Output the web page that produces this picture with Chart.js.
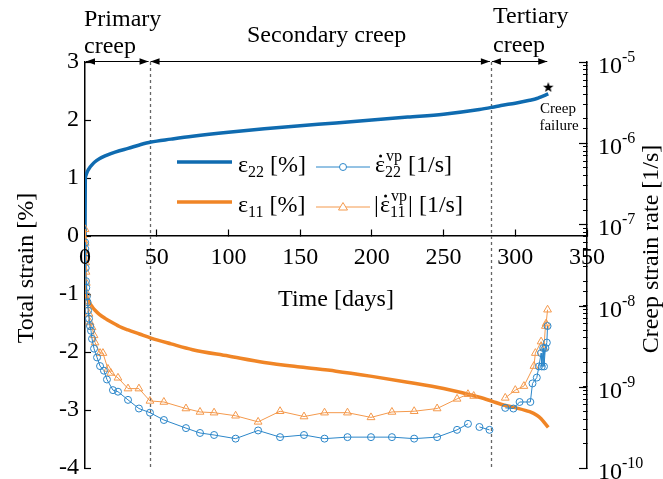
<!DOCTYPE html>
<html>
<head>
<meta charset="utf-8">
<script src="https://cdn.jsdelivr.net/npm/chart.js@4/dist/chart.umd.min.js"></script>
<style>
  html, body { margin: 0; padding: 0; background: #fff; }
</style>
</head>
<body>
<canvas id="creepChart" width="663" height="479"></canvas>
<script>
// total strain curves [%]
const strainDays = [0, 0.2, 0.5, 1, 2, 3, 5, 7, 10, 14, 18, 24, 30, 38, 46, 60, 75, 100, 125, 150, 175, 200, 225, 250, 275, 284, 290, 300, 310, 315, 318, 321, 323];
const strain22 = [0, 0.98, 1.03, 1.07, 1.13, 1.17, 1.23, 1.28, 1.33, 1.38, 1.42, 1.47, 1.51, 1.57, 1.62, 1.67, 1.72, 1.79, 1.85, 1.9, 1.95, 2.0, 2.05, 2.1, 2.18, 2.22, 2.25, 2.29, 2.34, 2.37, 2.4, 2.43, 2.45];
const strain11 = [0, -0.92, -0.98, -1.03, -1.1, -1.15, -1.22, -1.28, -1.35, -1.42, -1.48, -1.56, -1.62, -1.69, -1.76, -1.86, -1.96, -2.07, -2.18, -2.26, -2.33, -2.42, -2.52, -2.63, -2.78, -2.85, -2.9, -2.96, -3.03, -3.09, -3.15, -3.24, -3.3];

// viscoplastic creep strain rates [1/s]
const rate22Days = [0.1, 0.2, 0.3, 0.5, 0.7, 0.9, 1.3, 1.8, 2.2, 2.8, 3.5, 4.2, 4.9, 6.3, 8.4, 10.5, 13.2, 15.3, 19.5, 23, 30, 37.6, 45.3, 55, 70.4, 80.2, 90, 105, 120.7, 136, 152.7, 167, 183, 199.4, 214, 229.5, 245.5, 259.4, 267, 271, 275, 282, 288, 293, 298.7, 303, 310.5, 312, 315, 316.5, 318, 318.5, 319.5, 320, 321, 322, 322.5];
const rate22 = [6.0e-8, 5.0e-8, 3.8e-8, 2.9e-8, 2.0e-8, 1.66e-8, 1.3e-8, 1.1e-8, 8.7e-9, 6.9e-9, 5.6e-9, 4.9e-9, 3.9e-9, 2.95e-9, 2.3e-9, 1.8e-9, 1.58e-9, 1.23e-9, 9.1e-10, 8.7e-10, 6.9e-10, 5.4e-10, 4.8e-10, 3.9e-10, 3.1e-10, 2.7e-10, 2.55e-10, 2.3e-10, 2.9e-10, 2.4e-10, 2.55e-10, 2.3e-10, 2.4e-10, 2.4e-10, 2.4e-10, 2.3e-10, 2.4e-10, 2.95e-10, 3.5e-10, null, 3.2e-10, 2.95e-10, null, 5.5e-10, 5.4e-10, 6.5e-10, 6.5e-10, 1.1e-9, 1.3e-9, 1.78e-9, 2.6e-9, 1.78e-9, 3.0e-9, 1.78e-9, 3.0e-9, 3.5e-9, 5.6e-9];
const rate11Days = [0.05, 0.15, 0.3, 0.5, 0.7, 0.9, 1.4, 2.1, 2.8, 3.5, 4.9, 6.3, 7, 10.5, 12.5, 16, 18, 23, 30, 37.6, 45.3, 55, 70.4, 80.2, 90, 105, 120.7, 136, 152.7, 167, 183, 199.4, 214, 229.5, 245.5, 259.4, 267, 271, 282, 293, 300, 306, 313, 314, 318, 320, 321, 321.5, 322.5];
const rate11 = [8.7e-8, 5.9e-8, 4.4e-8, 3.4e-8, 2.6e-8, 1.9e-8, 1.4e-8, 1.0e-8, 7.9e-9, 6.2e-9, 5.4e-9, 4.3e-9, 3.5e-9, 2.6e-9, 2.6e-9, 1.66e-9, 1.48e-9, 1.29e-9, 9.5e-10, 9.5e-10, 6.7e-10, 6.5e-10, 5.4e-10, 4.9e-10, 4.8e-10, 4.4e-10, 3.7e-10, 5.0e-10, 4.3e-10, 4.8e-10, 4.8e-10, 4.2e-10, 4.9e-10, 5.0e-10, 5.4e-10, 7.1e-10, 8.1e-10, 7.7e-10, null, 7.3e-10, 9.1e-10, 1.02e-9, 1.8e-9, 2.6e-9, 3.6e-9, 3.0e-9, 5.6e-9, 6.0e-9, 8.9e-9];

// creep failure point and phase limits [days]
const failureDay = 323;
const failureStrain = 2.57;
const phaseDays = [0, 45, 283, 323];
const phaseNames = [['Primary', 'creep'], ['Secondary creep'], ['Tertiary', 'creep']];

const xTicks = [0, 50, 100, 150, 200, 250, 300, 350];
const strainTicks = [-4, -3, -2, -1, 0, 1, 2, 3];
const rateDecades = [-10, -9, -8, -7, -6, -5];

const serif = '"Liberation Serif", "Times New Roman", serif';
const blue = '#0f6bb0';
const orange = '#f08526';
const blueThin = '#2b86c9';
const orangeThin = '#f4994c';

const toPoints = (xs, ys) => xs.map((x, i) => ({ x: x, y: ys[i] }));

// filled five point star for the failure mark
const starImg = document.createElement('canvas');
starImg.width = 12; starImg.height = 12;
(function () {
    const s = starImg.getContext('2d');
    s.beginPath();
    for (let i = 0; i < 10; i++) {
        const r = i % 2 === 0 ? 5.5 : 2.3;
        const a = -Math.PI / 2 + i * Math.PI / 5;
        s.lineTo(6 + r * Math.cos(a), 6.5 + r * Math.sin(a));
    }
    s.closePath();
    s.fillStyle = '#000';
    s.fill();
})();

function arrowHead(c, x, y, dir) {
    c.beginPath();
    c.moveTo(x, y);
    c.lineTo(x - dir * 9, y - 3.2);
    c.lineTo(x - dir * 9, y + 3.2);
    c.closePath();
    c.fill();
}

function epsText(c, x, y, sub, rate) {
    c.font = '24px ' + serif;
    c.fillText('\u03b5', x, y);
    const ew = c.measureText('\u03b5').width;
    if (rate) {
        c.beginPath();
        c.arc(x + ew * 0.55, y - 16, 1.5, 0, Math.PI * 2);
        c.fill();
    }
    c.font = '16px ' + serif;
    let w = c.measureText(sub).width;
    c.fillText(sub, x + ew, y + 5);
    if (rate) {
        c.fillText('vp', x + ew + 1, y - 11);
        w = Math.max(w, c.measureText('vp').width + 1);
    }
    return x + ew + w;
}

const creepDecor = {
    id: 'creepDecor',
    beforeDatasetsDraw(chart) {
        const c = chart.ctx;
        const xs = chart.scales.x;
        const area = chart.chartArea;
        c.save();
        c.strokeStyle = '#666';
        c.lineWidth = 1.3;
        c.setLineDash([3, 3]);
        phaseDays.slice(1, 3).forEach(d => {
            const px = Math.round(xs.getPixelForValue(d)) + 0.5;
            c.beginPath();
            c.moveTo(px, area.top);
            c.lineTo(px, area.bottom);
            c.stroke();
        });
        c.restore();
    },
    afterDraw(chart) {
        const c = chart.ctx;
        const xs = chart.scales.x;
        const ys = chart.scales.y2;
        const area = chart.chartArea;
        c.save();
        c.fillStyle = '#000';
        c.strokeStyle = '#000';

        // x tick labels just under the y = 0 axis line
        const axisY = chart.scales.y.getPixelForValue(0);
        c.font = '24px ' + serif;
        c.textAlign = 'center';
        xTicks.forEach(v => c.fillText(String(v), xs.getPixelForValue(v), axisY + 28));

        // phase arrows and names
        const ay = area.top - 0.5;
        c.lineWidth = 1;
        for (let i = 0; i < 3; i++) {
            const x1 = xs.getPixelForValue(phaseDays[i]) + 1;
            const x2 = xs.getPixelForValue(phaseDays[i + 1]) - 1;
            c.beginPath();
            c.moveTo(x1, ay);
            c.lineTo(x2, ay);
            c.stroke();
            arrowHead(c, x1, ay, -1);
            arrowHead(c, x2, ay, 1);
        }
        c.font = '24px ' + serif;
        c.textAlign = 'left';
        c.fillText(phaseNames[0][0], 84, 26);
        c.fillText(phaseNames[0][1], 84, 53);
        c.fillText(phaseNames[1][0], 247, 42);
        c.fillText(phaseNames[2][0], 493, 23);
        c.fillText(phaseNames[2][1], 493, 52);

        c.font = '15px ' + serif;
        c.textAlign = 'center';
        c.fillText('Creep', 558, 113);
        c.fillText('failure', 559, 130);

        // right axis: major ticks and 10^n labels
        c.lineWidth = 1.2;
        c.textAlign = 'left';
        rateDecades.forEach(e => {
            const py = Math.round(ys.getPixelForValue(Math.pow(10, e))) + 0.5;
            c.beginPath();
            c.moveTo(ys.left, py);
            c.lineTo(ys.left - 8, py);
            c.stroke();
            c.font = '24px ' + serif;
            c.fillText('10', 598, py + 10);
            const w = c.measureText('10').width;
            c.font = '16px ' + serif;
            c.fillText(String(e), 598 + w, py - 1);
        });

        // axis titles
        c.font = '24px ' + serif;
        c.textAlign = 'center';
        c.fillText('Time [days]', (area.left + area.right) / 2, 306);
        c.save();
        c.translate(33, 268);
        c.rotate(-Math.PI / 2);
        c.fillText('Total strain [%]', 0, 0);
        c.restore();
        c.save();
        c.translate(658, 249);
        c.rotate(-Math.PI / 2);
        c.fillText('Creep strain rate [1/s]', 0, 0);
        c.restore();

        // legend
        c.textAlign = 'left';
        c.lineCap = 'butt';
        const rows = [
            { y: 162, thick: blue, thin: blueThin, sub: '22', abs: false },
            { y: 202, thick: orange, thin: orangeThin, sub: '11', abs: true }
        ];
        rows.forEach((r, i) => {
            c.strokeStyle = r.thick;
            c.lineWidth = 3.5;
            c.beginPath();
            c.moveTo(177, r.y);
            c.lineTo(232, r.y);
            c.stroke();
            c.fillStyle = '#000';
            let tx = epsText(c, 238, r.y + 10, r.sub, false);
            c.font = '24px ' + serif;
            c.fillText(' [%]', tx, r.y + 10);

            const ly = r.y + 5;
            c.strokeStyle = r.thin;
            c.lineWidth = 1;
            c.beginPath();
            c.moveTo(316, ly);
            c.lineTo(370, ly);
            c.stroke();
            c.fillStyle = '#fff';
            c.beginPath();
            if (i === 0) {
                c.arc(343, ly, 3.5, 0, Math.PI * 2);
            } else {
                c.moveTo(343, ly - 4.5);
                c.lineTo(347.5, ly + 3);
                c.lineTo(338.5, ly + 3);
                c.closePath();
            }
            c.fill();
            c.stroke();

            c.fillStyle = '#000';
            let rx = 375;
            c.font = '24px ' + serif;
            if (r.abs) {
                c.fillText('|', 374, r.y + 10);
                rx = 380;
            }
            rx = epsText(c, rx, r.y + 10, r.sub, true);
            c.font = '24px ' + serif;
            if (r.abs) {
                c.fillText('|', rx + 1, r.y + 10);
                rx += c.measureText('|').width + 1;
            }
            c.fillText(' [1/s]', rx, r.y + 10);
        });
        c.restore();
    }
};

const ctx = document.getElementById('creepChart').getContext('2d');
const creepChart = new Chart(ctx, {
    type: 'line',
    data: {
        datasets: [
            {
                label: 'e22 rate',
                data: toPoints(rate22Days, rate22),
                yAxisID: 'y2',
                borderColor: blueThin,
                borderWidth: 1,
                pointStyle: 'circle',
                pointRadius: 3.5,
                pointBorderWidth: 1,
                pointBorderColor: blueThin,
                pointBackgroundColor: 'rgba(0,0,0,0)',
                spanGaps: false,
                tension: 0,
                order: 0
            },
            {
                label: 'e11 rate',
                data: toPoints(rate11Days, rate11),
                yAxisID: 'y2',
                borderColor: orangeThin,
                borderWidth: 1,
                pointStyle: 'triangle',
                pointRadius: 4.5,
                pointBorderWidth: 1,
                pointBorderColor: orangeThin,
                pointBackgroundColor: 'rgba(0,0,0,0)',
                spanGaps: false,
                tension: 0,
                order: 0
            },
            {
                label: 'e22',
                data: toPoints(strainDays, strain22),
                yAxisID: 'y',
                borderColor: blue,
                borderWidth: 3.5,
                pointRadius: 0,
                cubicInterpolationMode: 'monotone',
                order: 1
            },
            {
                label: 'e11',
                data: toPoints(strainDays, strain11),
                yAxisID: 'y',
                borderColor: orange,
                borderWidth: 3.5,
                pointRadius: 0,
                cubicInterpolationMode: 'monotone',
                order: 1
            },
            {
                label: 'failure',
                data: [{ x: failureDay, y: failureStrain }],
                yAxisID: 'y',
                showLine: false,
                pointStyle: starImg,
                pointRadius: 6,
                order: 0
            }
        ]
    },
    options: {
        responsive: false,
        animation: false,
        events: [],
        layout: { padding: { top: 62, bottom: 11, left: 0, right: 0 } },
        plugins: {
            legend: { display: false },
            tooltip: { enabled: false }
        },
        scales: {
            x: {
                type: 'linear',
                position: { y: 0 },
                min: 0,
                max: 350,
                afterBuildTicks: s => { s.ticks = xTicks.map(v => ({ value: v })); },
                ticks: { display: false },
                grid: { drawOnChartArea: false, tickLength: -7, tickColor: '#000', tickWidth: 1.2 },
                border: { color: '#000', width: 1.5 },
                afterFit: s => { s.height = 10; }
            },
            y: {
                position: 'left',
                min: -4,
                max: 3,
                afterBuildTicks: s => { s.ticks = strainTicks.map(v => ({ value: v })); },
                ticks: { font: { family: serif, size: 24 }, color: '#000', padding: 12 },
                grid: { drawOnChartArea: false, tickLength: -6, tickColor: '#000', tickWidth: 1.2 },
                border: { color: '#000', width: 1.5 },
                afterFit: s => { s.width = 85; s.paddingTop = 0; s.paddingBottom = 0; }
            },
            y2: {
                type: 'logarithmic',
                position: 'right',
                min: 1e-10,
                max: 1e-5,
                ticks: { display: false },
                grid: { drawOnChartArea: false, tickLength: -4, tickColor: '#000', tickWidth: 1 },
                border: { color: '#000', width: 1.5 },
                afterFit: s => { s.width = 76; s.paddingTop = 0; s.paddingBottom = 0; }
            }
        }
    },
    plugins: [creepDecor]
});
</script>
</body>
</html>
